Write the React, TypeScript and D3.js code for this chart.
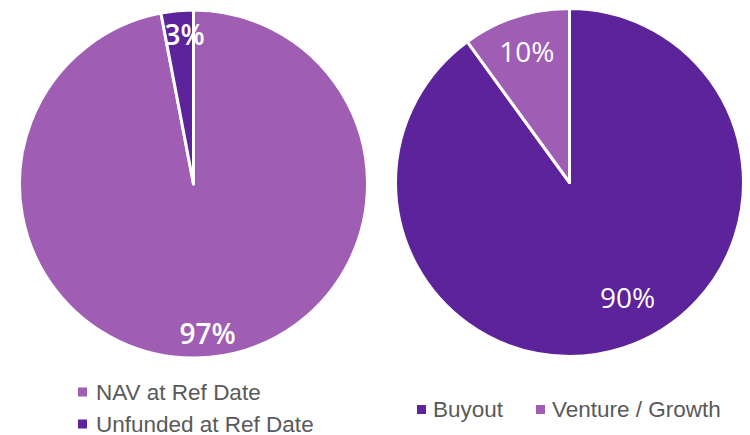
import * as d3 from 'd3';
import React, { useRef, useEffect } from 'react';

// left pie: capital split
const fundingLabels = ['NAV at Ref Date', 'Unfunded at Ref Date'];
const fundingValues = [97, 3];
// right pie: strategy split
const strategyLabels = ['Buyout', 'Venture / Growth'];
const strategyValues = [90, 10];

const LIGHT = '#9f5db4';
const DARK = '#5c239b';

type PieSpec = {
  labels: string[];
  values: number[];
  colors: string[];
  cx: number;
  cy: number;
  weight: number;
  // label radius and angle nudge (degrees) per slice
  labelPos: [number, number][];
};

export default function App() {
  const ref = useRef<SVGSVGElement>(null);

  useEffect(() => {
    const svg = d3.select(ref.current);
    svg.selectAll('*').remove();

    const r = 174;
    const pies: PieSpec[] = [
      { labels: fundingLabels, values: fundingValues, colors: [LIGHT, DARK], cx: 193.5, cy: 184, weight: 600, labelPos: [[150, 0], [150, 2]] },
      { labels: strategyLabels, values: strategyValues, colors: [DARK, LIGHT], cx: 569.5, cy: 182.5, weight: 400, labelPos: [[128, -9], [138, 0]] },
    ];

    const pie = d3.pie<number>().sort(null).value(d => d);
    const arc = d3.arc<d3.PieArcDatum<number>>().innerRadius(0).outerRadius(r);

    pies.forEach(p => {
      const g = svg.append('g').attr('transform', `translate(${p.cx},${p.cy})`);
      const arcs = pie(p.values);
      g.selectAll('path')
        .data(arcs)
        .join('path')
        .attr('d', arc)
        .attr('fill', (_, i) => p.colors[i])
        .attr('stroke', '#fff')
        .attr('stroke-width', 3)
        .attr('stroke-linejoin', 'round');

      g.selectAll('text')
        .data(arcs)
        .join('text')
        .attr('transform', (d, i) => {
          const [rr, nudge] = p.labelPos[i];
          const a = (d.startAngle + d.endAngle) / 2 + (nudge * Math.PI) / 180;
          return `translate(${rr * Math.sin(a)},${-rr * Math.cos(a)})`;
        })
        .attr('text-anchor', 'middle')
        .attr('dominant-baseline', 'central')
        .attr('fill', '#fff')
        .attr('font-family', '"Open Sans", sans-serif')
        .attr('font-size', 28)
        .attr('font-weight', p.weight)
        .text(d => `${d.data}%`);
    });

    const legendFont = '"Liberation Sans", Arial, sans-serif';
    const legendSize = 22.5;

    // left legend, stacked
    const leftLegend = svg.append('g').attr('transform', 'translate(78,392)');
    fundingLabels.forEach((name, i) => {
      const item = leftLegend.append('g').attr('transform', `translate(0,${i * 32})`);
      item.append('rect').attr('x', 0).attr('y', -4.5).attr('width', 9).attr('height', 9).attr('fill', i === 0 ? LIGHT : DARK);
      item.append('text')
        .attr('x', 18)
        .attr('y', 7.5)
        .attr('font-family', legendFont)
        .attr('font-size', legendSize)
        .attr('fill', '#595959')
        .text(name);
    });

    // right legend, in a row
    const rightLegend = svg.append('g').attr('transform', 'translate(417,409.5)');
    const offsets = [0, 119];
    strategyLabels.forEach((name, i) => {
      const item = rightLegend.append('g').attr('transform', `translate(${offsets[i]},0)`);
      item.append('rect').attr('x', 0).attr('y', -4.5).attr('width', 9).attr('height', 9).attr('fill', i === 0 ? DARK : LIGHT);
      item.append('text')
        .attr('x', 16)
        .attr('y', 7.5)
        .attr('font-family', legendFont)
        .attr('font-size', legendSize)
        .attr('fill', '#595959')
        .text(name);
    });
  }, []);

  return (
    <svg
      ref={ref}
      width={750}
      height={435}
      style={{ position: 'absolute', left: 0, top: 0, background: '#fff' }}
    />
  );
}
